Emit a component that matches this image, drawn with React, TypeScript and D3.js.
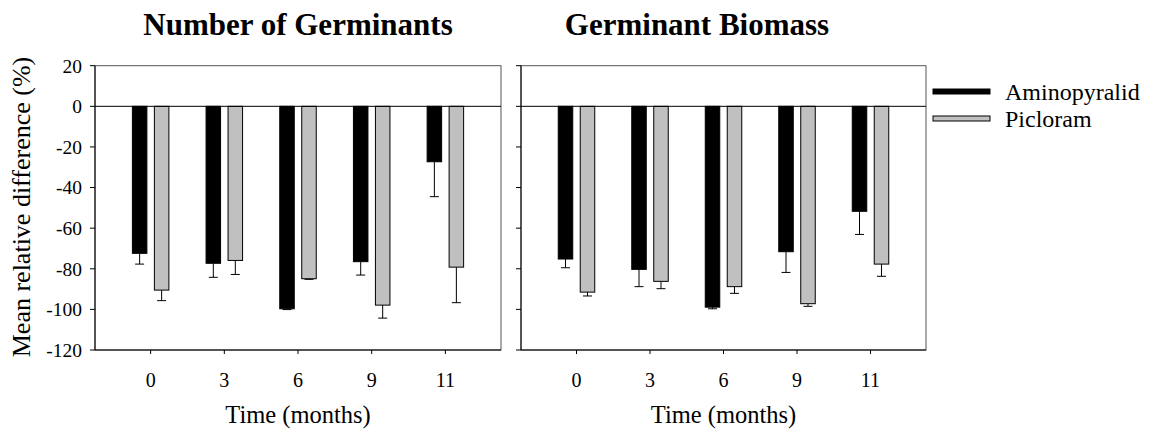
import React, { useEffect, useRef } from 'react';
import * as d3 from 'd3';

// Time after application (months)
const months = ["0", "3", "6", "9", "11"];
const series = ["Aminopyralid", "Picloram"];

// Number of Germinants
const germAmino = [-72.4, -77.3, -99.7, -76.5, -27.3];
const germAminoErr = [5.3, 6.9, 0.4, 6.6, 17.2];
const germPiclo = [-90.5, -75.9, -84.9, -97.9, -79.2];
const germPicloErr = [5.2, 6.9, 0.3, 6.4, 17.5];

// Germinant Biomass
const bioAmino = [-75.2, -80.3, -98.9, -71.6, -51.7];
const bioAminoErr = [4.3, 8.5, 0.8, 10.2, 11.4];
const bioPiclo = [-91.5, -86.2, -88.8, -97.2, -77.7];
const bioPicloErr = [1.9, 3.6, 3.3, 1.3, 6.0];

const yTicks = [20, 0, -20, -40, -60, -80, -100, -120];

const FONT = "'Liberation Serif', 'Times New Roman', serif";
const colors: Record<string, string> = { Aminopyralid: "#000000", Picloram: "#c0c0c0" };

const App: React.FC = () => {
  const svgRef = useRef<SVGSVGElement>(null);

  useEffect(() => {
    if (!svgRef.current) return;
    const svg = d3.select(svgRef.current);
    svg.selectAll("*").remove();

    const y = d3.scaleLinear().domain([-120, 20]).range([350, 65.7]);

    const panels = [
      { title: "Number of Germinants", titleX: 298, left: 95, right: 501, labels: true,
        vals: [germAmino, germPiclo], errs: [germAminoErr, germPicloErr] },
      { title: "Germinant Biomass", titleX: 697, left: 521, right: 926, labels: false,
        vals: [bioAmino, bioPiclo], errs: [bioAminoErr, bioPicloErr] },
    ];

    panels.forEach(p => {
      const x = d3.scalePoint().domain(months).range([p.left, p.right]).padding(0.755);
      const inner = d3.scaleBand().domain(series).range([-18.25, 18.25]).paddingInner(0.34);
      const g = svg.append("g");

      // frame
      g.append("rect")
        .attr("x", p.left).attr("y", y(20))
        .attr("width", p.right - p.left).attr("height", y(-120) - y(20))
        .style("fill", "none").style("stroke", "#555").style("stroke-width", 1);

      // y ticks
      yTicks.forEach(t => {
        g.append("line")
          .attr("x1", p.left - 5).attr("x2", p.left)
          .attr("y1", y(t)).attr("y2", y(t))
          .style("stroke", "#000");
        if (p.labels) {
          g.append("text")
            .attr("x", p.left - 13).attr("y", y(t))
            .attr("dy", "0.35em")
            .style("text-anchor", "end")
            .style("font-family", FONT).style("font-size", "19.5px")
            .text(String(t));
        }
      });

      // x ticks + labels
      months.forEach(m => {
        g.append("line")
          .attr("x1", x(m)!).attr("x2", x(m)!)
          .attr("y1", y(-120)).attr("y2", y(-120) + 4)
          .style("stroke", "#000");
        g.append("text")
          .attr("x", x(m)!).attr("y", 387)
          .style("text-anchor", "middle")
          .style("font-family", FONT).style("font-size", "20px")
          .text(m);
      });

      // bars + error bars (downward only)
      series.forEach((s, si) => {
        months.forEach((m, i) => {
          const v = p.vals[si][i];
          const e = p.errs[si][i];
          const bx = x(m)! + inner(s)!;
          const bw = inner.bandwidth();
          const cx = bx + bw / 2;
          g.append("line")
            .attr("x1", cx).attr("x2", cx)
            .attr("y1", y(v)).attr("y2", y(v - e))
            .style("stroke", "#000").style("stroke-width", 1);
          g.append("line")
            .attr("x1", cx - 4.5).attr("x2", cx + 4.5)
            .attr("y1", y(v - e)).attr("y2", y(v - e))
            .style("stroke", "#000").style("stroke-width", 1);
          g.append("rect")
            .attr("x", bx).attr("y", y(0))
            .attr("width", bw).attr("height", y(v) - y(0))
            .style("fill", colors[s])
            .style("stroke", "#000").style("stroke-width", 1);
        });
      });

      // zero line
      g.append("line")
        .attr("x1", p.left).attr("x2", p.right)
        .attr("y1", y(0)).attr("y2", y(0))
        .style("stroke", "#000").style("stroke-width", 1);

      // left + bottom axis lines
      g.append("line")
        .attr("x1", p.left).attr("x2", p.left)
        .attr("y1", y(20)).attr("y2", y(-120))
        .style("stroke", "#000");
      g.append("line")
        .attr("x1", p.left).attr("x2", p.right)
        .attr("y1", y(-120)).attr("y2", y(-120))
        .style("stroke", "#000");

      // titles
      g.append("text")
        .attr("x", p.titleX).attr("y", 35)
        .style("text-anchor", "middle")
        .style("font-family", FONT).style("font-size", "31px").style("font-weight", "bold")
        .text(p.title);

      g.append("text")
        .attr("x", (p.left + p.right) / 2).attr("y", 423)
        .style("text-anchor", "middle")
        .style("font-family", FONT).style("font-size", "24.5px")
        .text("Time (months)");
    });

    // y axis label
    svg.append("text")
      .attr("transform", "translate(30,207) rotate(-90)")
      .style("text-anchor", "middle")
      .style("font-family", FONT).style("font-size", "26px")
      .text("Mean relative difference (%)");

    // legend
    const legend = svg.append("g");
    series.forEach((s, i) => {
      const ly = 91.5 + i * 27;
      legend.append("rect")
        .attr("x", 933).attr("y", ly - 2.5)
        .attr("width", 57).attr("height", 5)
        .style("fill", colors[s])
        .style("stroke", "#000").style("stroke-width", 1);
      legend.append("text")
        .attr("x", 1005).attr("y", ly + 8)
        .style("font-family", FONT).style("font-size", "24px")
        .text(s);
    });
  }, []);

  return (
    <svg
      ref={svgRef}
      width={1155}
      height={434}
      style={{ position: "absolute", left: 0, top: 0, background: "#fff" }}
    />
  );
};

export default App;
